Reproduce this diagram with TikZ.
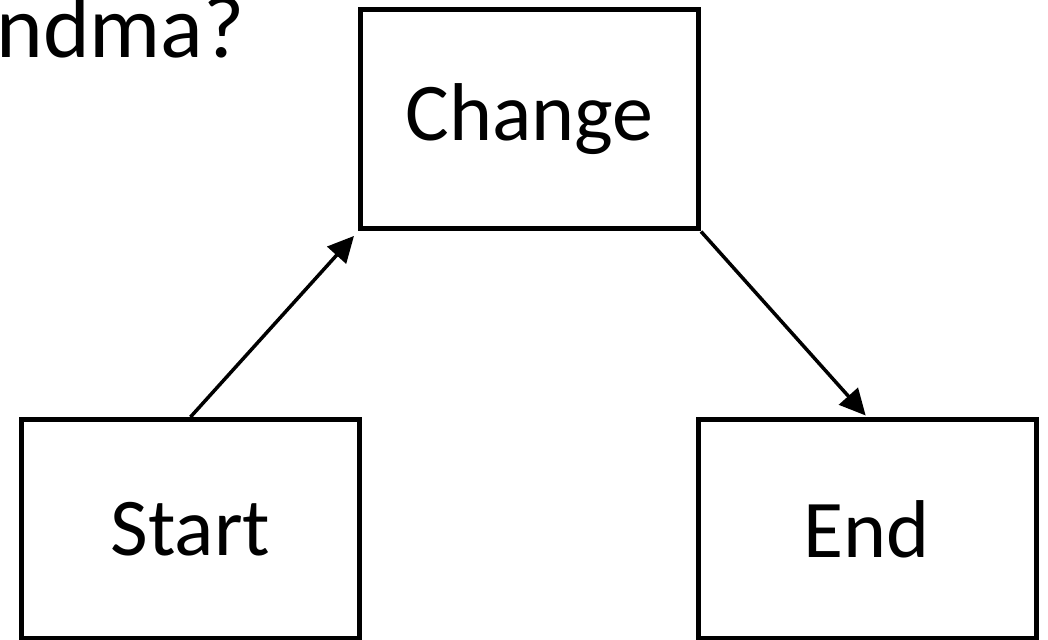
\documentclass[tikz,border=0pt]{standalone}
\usepackage{fontspec}
\setmainfont{Carlito}
\usepackage{tikz}
\usetikzlibrary{positioning, calc, arrows.meta}

\begin{document}
\begin{tikzpicture}[
    x=1pt, y=1pt,
    stagebox/.style={rectangle, draw=black, line width=5pt, fill=white,
                     minimum width=338pt, minimum height=219pt, inner sep=0pt,
                     font=\fontsize{82pt}{98pt}\selectfont},
    flow/.style={-{Triangle[length=26pt, width=25pt]}, line width=3.5pt, black},
  ]
    \useasboundingbox (0,0) rectangle (1048,639);

    % Title (cut at the left edge)
    \node[anchor=base east, inner sep=0pt, font=\fontsize{89pt}{100pt}\selectfont]
      (title) at (245,581) {ndma?};

    % Boxes
    \node[stagebox] (Change) at (529.5,519.5) {Change};
    \node[stagebox] (Start) at (190.5,110) {Start};
    \node[stagebox] (End) at (867,110) {End};

    % Arrows
    \draw[flow, shorten >=6pt] (Start.north) -- (Change.south west);
    \draw[flow, shorten >=2pt] (Change.south east) -- (End.north);
  \end{tikzpicture}
\end{document}
